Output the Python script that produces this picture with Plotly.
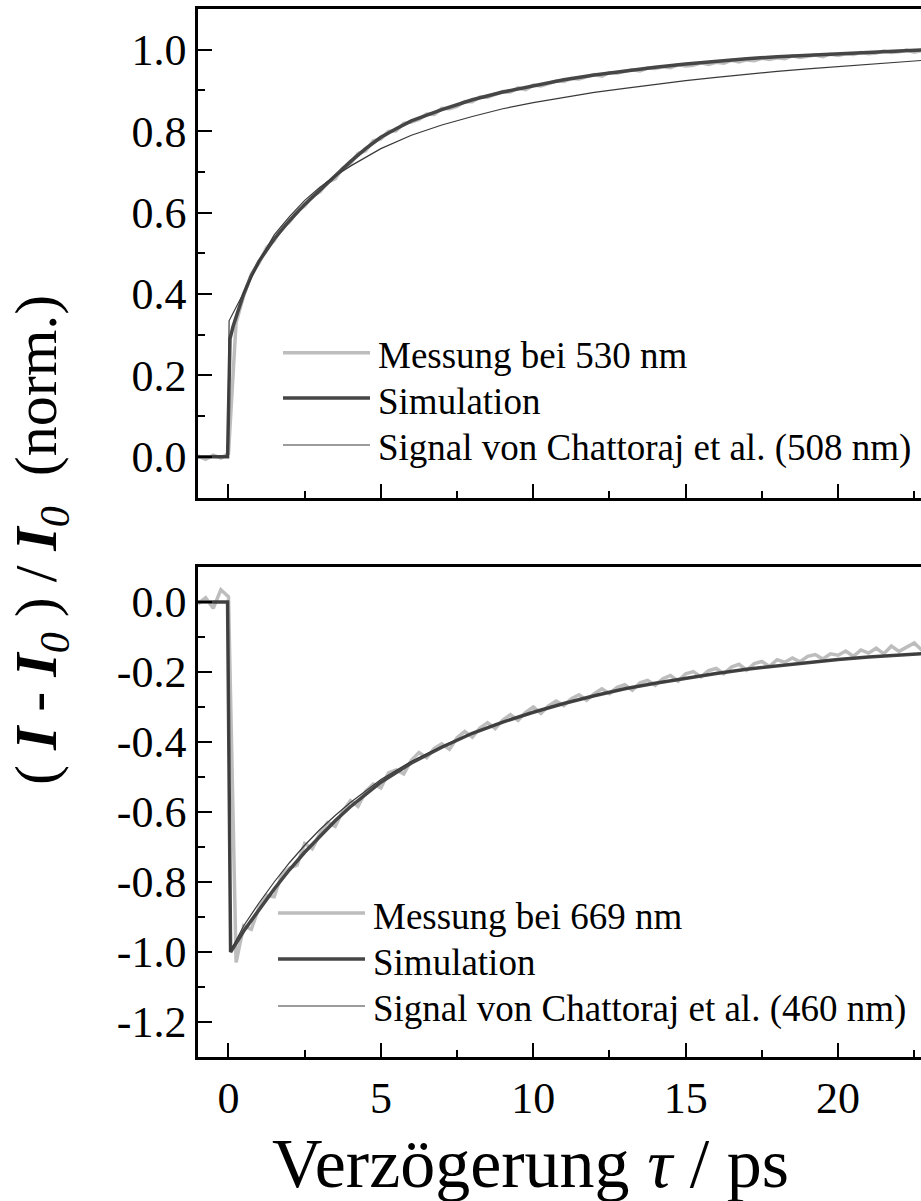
import numpy as np
import plotly.graph_objects as go

# ---------------- data ----------------
# measurement sampling grid (ps)
t_meas = np.round(np.arange(-1.0, 22.76, 0.25), 2)

meas_530 = [
    0.002, -0.006, 0.004, -0.003, 0.008,
    0.330, 0.396, 0.449, 0.476, 0.514, 0.531, 0.563, 0.577, 0.604, 0.616,
    0.641, 0.651, 0.674, 0.683, 0.709, 0.720, 0.745, 0.752, 0.776, 0.781,
    0.799, 0.801, 0.819, 0.822, 0.829, 0.842, 0.841, 0.856, 0.855, 0.861,
    0.873, 0.872, 0.884, 0.883, 0.889, 0.897,
    0.896, 0.906, 0.902, 0.913, 0.911, 0.917, 0.923, 0.922, 0.929, 0.928,
    0.933, 0.939, 0.935, 0.944, 0.942, 0.946, 0.951, 0.948, 0.955, 0.954,
    0.958, 0.956, 0.963, 0.960, 0.962, 0.968, 0.964, 0.969, 0.967, 0.974,
    0.970, 0.975, 0.973, 0.979, 0.976, 0.980, 0.978, 0.985, 0.981, 0.984,
    0.987, 0.983, 0.989, 0.986, 0.990, 0.988, 0.993, 0.990, 0.992, 0.997,
    0.993, 0.995, 0.999, 0.994, 0.998,
]

meas_669 = [
    -0.005, 0.012, -0.018, 0.035, 0.015,
    -1.030, -0.925, -0.935, -0.872, -0.838, -0.842, -0.778, -0.760, -0.752, -0.690,
    -0.705, -0.662, -0.630, -0.641, -0.598, -0.568, -0.584, -0.541, -0.520, -0.531,
    -0.488, -0.480, -0.491, -0.452, -0.430, -0.445, -0.418, -0.405, -0.421, -0.388,
    -0.370, -0.386, -0.360, -0.345, -0.362, -0.337,
    -0.322, -0.338, -0.315, -0.300, -0.318, -0.297, -0.283, -0.296, -0.276, -0.265,
    -0.281, -0.262, -0.248, -0.262, -0.244, -0.236, -0.252, -0.231, -0.224, -0.238,
    -0.219, -0.210, -0.226, -0.205, -0.199, -0.214, -0.196, -0.190, -0.205, -0.186,
    -0.178, -0.195, -0.176, -0.170, -0.184, -0.165, -0.172, -0.160, -0.171, -0.155,
    -0.150, -0.163, -0.148, -0.152, -0.140, -0.155, -0.137, -0.146, -0.132, -0.148,
    -0.126, -0.141, -0.130, -0.117, -0.138,
]

# simulation, 530 nm
t_sim_530 = [-1.0, -0.03, 0.05, 0.15, 0.3, 0.5, 0.75, 1.0, 1.5, 2.0, 2.5, 3.0, 3.5,
             4.0, 4.5, 5.0, 5.5, 6.0, 7.0, 8.0, 9.0, 10.0, 11.0, 12.0, 13.0, 14.0,
             15.0, 16.0, 17.0, 18.0, 19.0, 20.0, 21.0, 22.0, 23.0]
sim_530 = [0.0, 0.0, 0.29, 0.32, 0.355, 0.40, 0.445, 0.48, 0.535, 0.58, 0.62, 0.655,
           0.688, 0.725, 0.757, 0.785, 0.806, 0.825, 0.853, 0.877, 0.896, 0.912,
           0.926, 0.938, 0.948, 0.957, 0.965, 0.972, 0.978, 0.983, 0.987, 0.99,
           0.994, 0.997, 1.0]

# Chattoraj et al., 508 nm
t_ref_508 = [-1.0, -0.02, 0.02, 0.2, 0.4, 0.75, 1.0, 1.5, 2.0, 2.5, 3.0, 3.5, 4.0,
             5.0, 6.0, 7.0, 8.0, 9.0, 10.0, 11.0, 12.0, 13.0, 14.0, 15.0, 16.0,
             17.0, 18.0, 19.0, 20.0, 21.0, 22.0, 23.0]
ref_508 = [0.0, 0.0, 0.334, 0.36, 0.39, 0.44, 0.48, 0.545, 0.59, 0.63, 0.662, 0.69,
           0.714, 0.757, 0.79, 0.815, 0.836, 0.855, 0.87, 0.883, 0.895, 0.905, 0.915,
           0.924, 0.932, 0.94, 0.947, 0.953, 0.959, 0.965, 0.97, 0.975]

# simulation, 669 nm
t_sim_669 = [-1.0, -0.03, 0.07, 0.25, 0.5, 1.0, 1.5, 2.0, 2.5, 3.0, 3.5, 4.0, 4.5,
             5.0, 6.0, 7.0, 8.0, 9.0, 10.0, 11.0, 12.0, 13.0, 14.0, 15.0, 16.0,
             17.0, 18.0, 19.0, 20.0, 21.0, 22.0, 23.0]
sim_669 = [0.0, 0.0, -1.0, -0.975, -0.94, -0.88, -0.82, -0.765, -0.715, -0.67,
           -0.625, -0.585, -0.55, -0.515, -0.46, -0.415, -0.375, -0.343, -0.315,
           -0.29, -0.268, -0.248, -0.232, -0.217, -0.204, -0.192, -0.182, -0.172,
           -0.164, -0.157, -0.151, -0.146]

# Chattoraj et al., 460 nm
t_ref_460 = [-1.0, -0.02, 0.05, 0.5, 1.0, 1.5, 2.0, 2.5, 3.0, 3.5, 4.0, 5.0, 6.0,
             7.0, 8.0, 9.0, 10.0, 11.0, 12.0, 13.0, 14.0, 15.0, 16.0, 17.0, 18.0,
             19.0, 20.0, 21.0, 22.0, 23.0]
ref_460 = [0.0, 0.0, -1.0, -0.925, -0.86, -0.80, -0.745, -0.695, -0.65, -0.61,
           -0.573, -0.507, -0.455, -0.412, -0.375, -0.343, -0.315, -0.29, -0.268,
           -0.248, -0.232, -0.217, -0.204, -0.192, -0.182, -0.172, -0.164, -0.157,
           -0.151, -0.146]

# axis ticks
x_major = [0, 5, 10, 15, 20]
x_labels = ["0", "5", "10", "15", "20"]
x_minor = [2.5, 7.5, 12.5, 17.5, 22.5]
y_top_major = [0.0, 0.2, 0.4, 0.6, 0.8, 1.0]
y_top_labels = ["0.0", "0.2", "0.4", "0.6", "0.8", "1.0"]
y_top_minor = [-0.1, 0.1, 0.3, 0.5, 0.7, 0.9]
y_bot_major = [-1.2, -1.0, -0.8, -0.6, -0.4, -0.2, 0.0]
y_bot_labels = ["-1.2", "-1.0", "-0.8", "-0.6", "-0.4", "-0.2", "0.0"]
y_bot_minor = [-1.3, -1.1, -0.9, -0.7, -0.5, -0.3, -0.1]

legend_top = ["Messung bei 530 nm", "Simulation", "Signal von Chattoraj et al. (508 nm)"]
legend_bot = ["Messung bei 669 nm", "Simulation", "Signal von Chattoraj et al. (460 nm)"]

# ---------------- styling ----------------
FONT = "Liberation Serif"
C_MEAS = "#bdbdbd"
C_SIM = "#464646"
C_REF = "#3a3a3a"
W_MEAS, W_SIM, W_REF = 3.5, 3.5, 1.2

W, H = 921, 1201
L = 198

def px_x(p):
    return (p - L) / (W - L)

def px_y(p):
    return 1 - p / H

fig = go.Figure()

# top panel traces
fig.add_trace(go.Scatter(x=t_meas, y=meas_530, mode="lines",
                         line=dict(color=C_MEAS, width=W_MEAS), xaxis="x", yaxis="y"))
fig.add_trace(go.Scatter(x=t_sim_530, y=sim_530, mode="lines",
                         line=dict(color=C_SIM, width=W_SIM), xaxis="x", yaxis="y"))
fig.add_trace(go.Scatter(x=t_ref_508, y=ref_508, mode="lines",
                         line=dict(color=C_REF, width=W_REF), xaxis="x", yaxis="y"))

# bottom panel traces
fig.add_trace(go.Scatter(x=t_meas, y=meas_669, mode="lines",
                         line=dict(color=C_MEAS, width=W_MEAS), xaxis="x2", yaxis="y2"))
fig.add_trace(go.Scatter(x=t_sim_669, y=sim_669, mode="lines",
                         line=dict(color=C_SIM, width=W_SIM), xaxis="x2", yaxis="y2"))
fig.add_trace(go.Scatter(x=t_ref_460, y=ref_460, mode="lines",
                         line=dict(color=C_REF, width=W_REF), xaxis="x2", yaxis="y2"))

tickfont = dict(family=FONT, size=44, color="black")

def xaxis_style(show_labels):
    return dict(
        range=[-1.0, 22.72], tickmode="array", tickvals=x_major, ticktext=x_labels,
        showticklabels=show_labels, ticks="inside", ticklen=14, tickwidth=2,
        tickcolor="black", showline=True, linewidth=2.5, linecolor="black",
        mirror=True, showgrid=False, zeroline=False, tickfont=tickfont,
        minor=dict(tickvals=x_minor, ticks="inside", ticklen=7, tickwidth=2,
                   tickcolor="black", showgrid=False),
    )

def yaxis_style(rng, vals, labels, minor_vals, dom):
    return dict(
        range=rng, domain=dom, tickmode="array", tickvals=vals, ticktext=labels,
        ticks="inside", ticklen=14, tickwidth=2, tickcolor="black",
        showline=True, linewidth=2.5, linecolor="black", mirror=False,
        showgrid=False, zeroline=False, tickfont=tickfont,
        minor=dict(tickvals=minor_vals, ticks="inside", ticklen=7, tickwidth=2,
                   tickcolor="black", showgrid=False),
    )

fig.update_layout(
    width=W, height=H,
    margin=dict(l=L, r=0, t=0, b=0),
    paper_bgcolor="white", plot_bgcolor="white",
    showlegend=False,
    xaxis=dict(anchor="y", **xaxis_style(False)),
    xaxis2=dict(anchor="y2", **xaxis_style(True)),
    yaxis=dict(anchor="x", **yaxis_style([-0.1, 1.1], y_top_major, y_top_labels,
                                         y_top_minor, [px_y(497.5), px_y(9)])),
    yaxis2=dict(anchor="x2", **yaxis_style([-1.3, 0.1], y_bot_major, y_bot_labels,
                                           y_bot_minor, [px_y(1057), px_y(567)])),
)

# legend keys and labels (drawn in page pixels)
def legend_block(labels, x0, x1, xt, ys):
    styles = [(C_MEAS, W_MEAS), (C_SIM, W_SIM), (C_REF, W_REF)]
    for lab, (col, wd), yy in zip(labels, styles, ys):
        fig.add_shape(type="line", xref="paper", yref="paper",
                      x0=px_x(x0), x1=px_x(x1), y0=px_y(yy), y1=px_y(yy),
                      line=dict(color=col, width=wd))
        fig.add_annotation(text=lab, xref="paper", yref="paper",
                           x=px_x(xt), y=px_y(yy + 3), xanchor="left", yanchor="middle",
                           showarrow=False, font=dict(family=FONT, size=37, color="black"))

legend_block(legend_top, 283, 370, 376, [352.7, 398, 445])
legend_block(legend_bot, 278, 365, 371, [913, 959, 1006])

# axis titles
fig.add_annotation(text="Verzögerung <i>τ</i> / ps", xref="paper", yref="paper",
                   x=px_x(530), y=px_y(1163), xanchor="center", yanchor="middle",
                   showarrow=False, font=dict(family=FONT, size=70, color="black"))
fig.add_annotation(
    text="( <b><i>I</i></b> - <b><i>I</i></b><sub><i>0</i></sub> ) / "
         "<b><i>I</i></b><sub><i>0</i></sub>&nbsp; (norm.)",
    xref="paper", yref="paper", x=px_x(40), y=px_y(540), textangle=-90,
    xanchor="center", yanchor="middle", showarrow=False,
    font=dict(family=FONT, size=60, color="black"))

fig.write_html("out.html")
